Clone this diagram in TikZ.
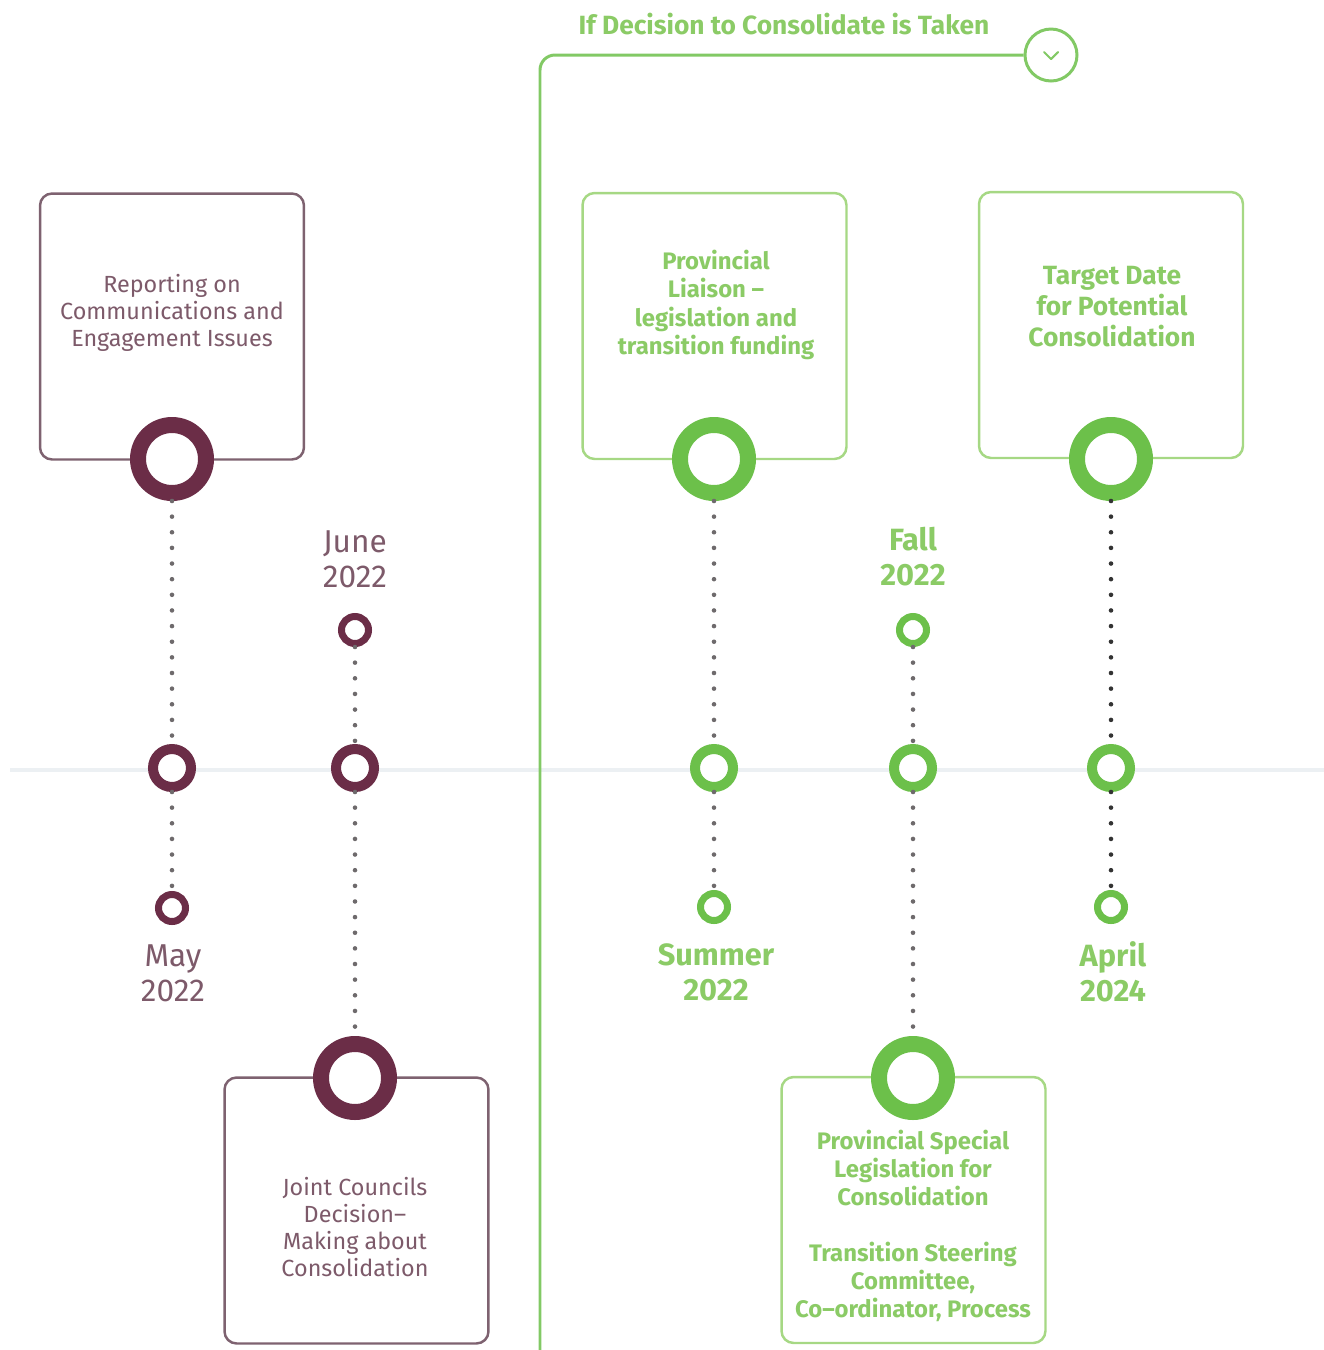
\documentclass[tikz,border=0pt]{standalone}
\usepackage{fontspec}
\setmainfont{Fira Sans}
\usetikzlibrary{positioning}
\definecolor{kmaroon}{HTML}{6B2D47}
\definecolor{kmaroontext}{HTML}{7D5A6A}
\definecolor{kmaroonline}{HTML}{7E6270}
\definecolor{kgreen}{HTML}{6CC04A}
\definecolor{kgreentext}{HTML}{8BCB66}
\definecolor{kgreenline}{HTML}{A6D884}
\definecolor{kdotgray}{HTML}{6E6A6C}
\definecolor{ktimeline}{HTML}{ECF0F3}

\begin{document}
\begin{tikzpicture}[x=0.02cm, y=-0.02cm,
  mbox/.style={draw=kmaroonline, fill=white, line width=1.4pt, rounded corners=0.24cm,
    minimum width=5.28cm, minimum height=5.32cm, inner sep=0pt},
  gbox/.style={mbox, draw=kgreenline},
  bigring/.style={circle, draw=#1, fill=white, line width=9.1pt, minimum size=1.36cm, inner sep=0pt},
  midring/.style={circle, draw=#1, fill=white, line width=5.7pt, minimum size=0.76cm, inner sep=0pt},
  smallring/.style={circle, draw=#1, fill=white, line width=4pt, minimum size=0.54cm, inner sep=0pt},
  dots/.style={draw=#1, line width=2.6pt, line cap=round, dash pattern=on 0pt off 8.9pt},
  mtxt/.style={text=kmaroontext, align=center, font=\fontsize{13.3}{15.4}\selectfont},
  gtxt/.style={text=kgreentext, align=center, font=\fontsize{13.6}{16}\selectfont\bfseries},
  mdate/.style={text=kmaroontext, align=center, font=\fontsize{18}{20}\selectfont},
  gdate/.style={text=kgreentext, align=center, font=\fontsize{17.5}{20}\selectfont\bfseries}]

  \useasboundingbox (0,0) rectangle (1324,1350);

  %% Faint timeline
  \coordinate (tlStart) at (10,770);
  \coordinate (tlEnd) at (1324,770);
  \draw[ktimeline, line width=2.3pt] (tlStart) -- (tlEnd);

  %% Green bracket with header
  \node[circle, draw=kgreen!85, line width=1.7pt, minimum size=1.04cm, inner sep=0pt] (chev) at (1051,55) {};
  \draw[kgreen!85, line width=1.2pt, line cap=round, line join=round]
    ([shift={(-7,-3)}]chev.center) -- ([shift={(0,4)}]chev.center) -- ([shift={(7,-3)}]chev.center);
  \coordinate (brkFoot) at (540,1350);
  \draw[kgreen!85, line width=1.7pt, rounded corners=0.3cm] (brkFoot) |- (chev.west);
  \node[text=kgreentext, font=\fontsize{15}{17}\selectfont\bfseries] (header) at (784,24)
    {If Decision to Consolidate is Taken};

  %% Boxes
  \node[mbox] (reportBox) at (172,326.5) {};
  \node[gbox] (liaisonBox) at (714.5,326) {};
  \node[gbox] (targetBox) at (1111,325) {};
  \node[mbox] (jointBox) at (356.5,1210.5) {};
  \node[gbox] (specialBox) at (913.5,1210) {};

  \node[mtxt] (reportTxt) at (172,313)
    {Reporting on\\Communications and\\Engagement Issues};
  \node[gtxt] (liaisonTxt) at (716,305)
    {Provincial\\Liaison --\\legislation and\\transition funding};
  \node[gtxt, font=\fontsize{15}{17.6}\selectfont\bfseries] (targetTxt) at (1112,307)
    {Target Date\\for Potential\\Consolidation};
  \node[mtxt] (jointTxt) at (355,1227)
    {Joint Councils\\Decision--\\Making about\\Consolidation};
  \node[gtxt] (specialTxt) at (913,1226)
    {Provincial Special\\Legislation for\\Consolidation\\[16pt]Transition Steering\\Committee,\\Co--ordinator, Process};

  %% Rings
  \foreach \n/\x/\y/\c in {may/172/459/kmaroon, june/355/1078/kmaroon, summer/714/459/kgreen,
                          fall/913/1078/kgreen, april/1111/459/kgreen}{
    \node[bigring=\c] (\n Big) at (\x,\y) {};
  }
  \foreach \n/\x/\c in {may/172/kmaroon, june/355/kmaroon, summer/714/kgreen, fall/913/kgreen, april/1111/kgreen}{
    \node[midring=\c] (\n Mid) at (\x,768) {};
  }
  \foreach \n/\x/\y/\c in {may/172/908/kmaroon, june/355/630/kmaroon, summer/714/907/kgreen,
                          fall/913/630/kgreen, april/1111/907/kgreen}{
    \node[smallring=\c] (\n Small) at (\x,\y) {};
  }

  %% Dotted stems
  \draw[dots=kdotgray] (mayBig) -- (mayMid) (mayMid) -- (maySmall);
  \draw[dots=kdotgray] (juneSmall) -- (juneMid) (juneMid) -- (juneBig);
  \draw[dots=kdotgray] (summerBig) -- (summerMid) (summerMid) -- (summerSmall);
  \draw[dots=kdotgray] (fallSmall) -- (fallMid) (fallMid) -- (fallBig);
  \draw[dots=black!80] (aprilBig) -- (aprilMid) (aprilMid) -- (aprilSmall);

  %% Dates
  \node[mdate] (mayDate) at (173,973) {May\\2022};
  \node[mdate] (juneDate) at (355,559) {June\\2022};
  \node[gdate] (summerDate) at (716,972) {Summer\\2022};
  \node[gdate] (fallDate) at (913,557) {Fall\\2022};
  \node[gdate] (aprilDate) at (1113,972) {April\\2024};

\end{tikzpicture}
\end{document}
